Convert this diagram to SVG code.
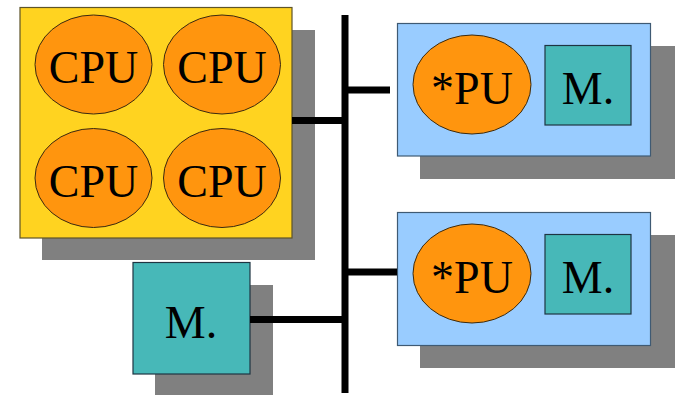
<svg xmlns="http://www.w3.org/2000/svg" width="675" height="395" viewBox="0 0 675 395">
<style>
.shadow{fill:#808080}
.chip{fill:#ffd320;stroke:#5e5428;stroke-width:1.2}
.node{fill:#99ccff;stroke:#3f5a73;stroke-width:1.2}
.cpu{fill:#ff950e;stroke:#3a2a10;stroke-width:1}
.mem{fill:#47b8b8;stroke:#1e3442;stroke-width:1.2}
.wire{stroke:#000;stroke-width:7;fill:none}
text{font-family:"Liberation Serif","Times New Roman",serif;fill:#000;text-anchor:middle}
.big{font-size:46px}
</style>
<g id="multicore">
<rect class="shadow" x="42" y="30" width="273" height="230"/>
<rect class="chip" x="20" y="7.5" width="272" height="230.5"/>
<ellipse class="cpu" cx="93.5" cy="64.5" rx="58.5" ry="49.5"/>
<text class="big" x="93.5" y="83">CPU</text>
<ellipse class="cpu" cx="222" cy="64.5" rx="58.5" ry="49.5"/>
<text class="big" x="222" y="83">CPU</text>
<ellipse class="cpu" cx="93.5" cy="178" rx="58.5" ry="49.5"/>
<text class="big" x="93.5" y="197">CPU</text>
<ellipse class="cpu" cx="222" cy="178" rx="58.5" ry="49.5"/>
<text class="big" x="222" y="197">CPU</text>
</g>
<g id="memory">
<rect class="shadow" x="155" y="285" width="118" height="110"/>
<rect class="mem" x="133" y="262.5" width="117" height="111.5"/>
<text class="big" x="191" y="338">M.</text>
</g>
<g id="node-top">
<rect class="shadow" x="420" y="46" width="255" height="133"/>
<rect class="node" x="397.5" y="23.5" width="253" height="132.5"/>
<ellipse class="cpu" cx="472" cy="84.5" rx="59" ry="49.5"/>
<text class="big" x="472" y="104">*PU</text>
<rect class="mem" x="545" y="45.5" width="86" height="79.5"/>
<text class="big" x="588" y="104">M.</text>
</g>
<g id="node-bottom">
<rect class="shadow" x="420" y="235" width="255" height="133"/>
<rect class="node" x="397.5" y="212.5" width="253" height="133"/>
<ellipse class="cpu" cx="472" cy="273.5" rx="59" ry="49.5"/>
<text class="big" x="472" y="293">*PU</text>
<rect class="mem" x="545" y="234.5" width="86" height="79.5"/>
<text class="big" x="588" y="293">M.</text>
</g>
<g id="connectors">
<line class="wire" x1="345" y1="15" x2="345" y2="393"/>
<line class="wire" x1="292" y1="120.5" x2="345" y2="120.5"/>
<line class="wire" x1="345" y1="90" x2="390" y2="90"/>
<line class="wire" x1="345" y1="272" x2="397" y2="272"/>
<line class="wire" x1="250" y1="319.5" x2="345" y2="319.5"/>
</g>
</svg>
